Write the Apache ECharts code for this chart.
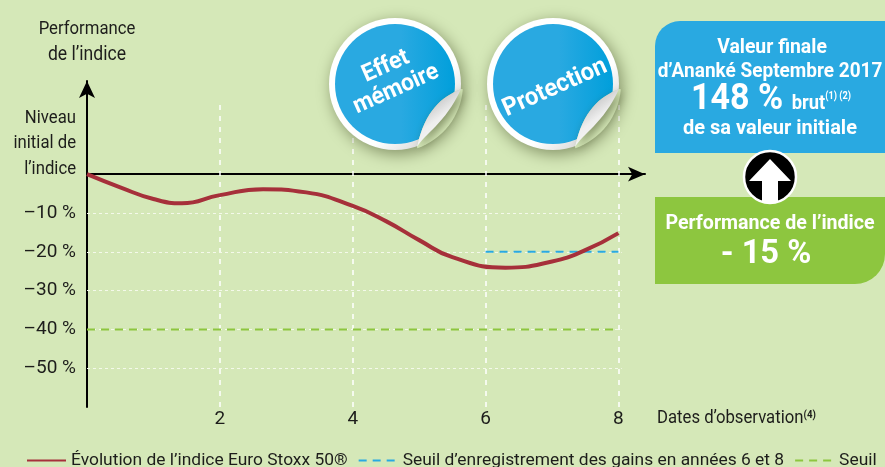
<!DOCTYPE html>
<html>
<head>
<meta charset="utf-8">
<style>
  html, body { margin: 0; padding: 0; background: #d5e8b8; }
  #chart { width: 885px; height: 467px; }
</style>
<script src="https://cdn.jsdelivr.net/npm/echarts@6/dist/echarts.min.js"></script>
</head>
<body>
<div id="chart"></div>
<script>
var FONT = 'Roboto, sans-serif'

var dates = [0, 0.5, 1, 1.43, 2, 2.65, 3.3, 4, 4.5, 5, 5.5, 6.3, 7, 7.5, 8]
var indexValues = [0, -3.4, -6.4, -7.5, -5.4, -3.9, -4.7, -8.2, -12.1, -17, -21.4, -24.1, -22.5, -19.6, -15.2]
var xTicks = [2, 4, 6, 8]
var yTicks = [-10, -20, -30, -40, -50]
var gainThreshold = -20
var gainDates = [6, 8]
var protectionThreshold = -40
var protectionDates = [0, 8]
var seriesNames = ['Évolution de l’indice Euro Stoxx 50®', 'Seuil d’enregistrement des gains en années 6 et 8', 'Seuil']

function pairs(xs, ys) {
  return xs.map(function (x, i) { return [x, Array.isArray(ys) ? ys[i] : ys] })
}

// courbe de bezier -> points, graphic n'a pas de type path
function bez(p0, p1, p2, p3) {
  var out = []
  for (var i = 0; i <= 16; i++) {
    var t = i / 16, u = 1 - t
    out.push([
      u * u * u * p0[0] + 3 * u * u * t * p1[0] + 3 * u * t * t * p2[0] + t * t * t * p3[0],
      u * u * u * p0[1] + 3 * u * u * t * p1[1] + 3 * u * t * t * p2[1] + t * t * t * p3[1]
    ])
  }
  return out
}

function sticker(cx, lines, size, dx, dy) {
  var cy = 84
  var a = [cx + 66, 89], b = [cx + 22, 147]
  var arc = []
  var a0 = Math.atan2(a[1] - cy, a[0] - cx), a1 = Math.atan2(b[1] - cy, b[0] - cx)
  for (var i = 0; i <= 16; i++) {
    var t = a0 + (a1 - a0) * i / 16
    arc.push([cx + 68 * Math.cos(t), cy + 68 * Math.sin(t)])
  }
  var inner = bez(a, [cx + 47, 97], [cx + 30, 110], b)
  var outer = bez(b, [cx + 30, 133], [cx + 50, 124], a)
  return [
    { type: 'circle', z: 20, shape: { cx: cx, cy: cy, r: 66 },
      style: { fill: new echarts.graphic.LinearGradient(0, 0, 1, 1, [
        { offset: 0, color: '#fff' }, { offset: 0.65, color: '#fff' }, { offset: 1, color: '#bdbdbd' }]),
        shadowBlur: 16, shadowColor: 'rgba(60,70,30,0.55)', shadowOffsetX: 3, shadowOffsetY: 4 } },
    { type: 'circle', z: 21, shape: { cx: cx, cy: cy, r: 60 },
      style: { fill: new echarts.graphic.LinearGradient(0, 0, 1, 0, [
        { offset: 0, color: '#29a9e1' }, { offset: 0.55, color: '#29a9e1' }, { offset: 1, color: '#009fdb' }]) } },
    // coin replie
    { type: 'polygon', z: 22, shape: { points: arc.concat(inner.slice().reverse()) }, style: { fill: '#d5e8b8' } },
    { type: 'polygon', z: 23, shape: { points: inner.concat(outer) },
      style: { fill: new echarts.graphic.LinearGradient(0, 0, 1, 1, [
        { offset: 0, color: '#9a9a9a' }, { offset: 0.5, color: '#eeeeee' }, { offset: 1, color: '#fff' }]),
        shadowBlur: 10, shadowColor: 'rgba(60,70,30,0.55)', shadowOffsetX: 3, shadowOffsetY: 3 } },
    { type: 'text', z: 24, x: cx + dx, y: cy + dy, rotation: 24 * Math.PI / 180, scaleX: 0.95,
      style: { text: lines, fill: '#fff', font: 'bold ' + size + 'px ' + FONT, align: 'center', verticalAlign: 'middle', lineHeight: size + 1 } }
  ]
}

function label(x, y, text, size, weight, align, sx) {
  return { type: 'text', z: 30, x: x, y: y, scaleX: sx || 0.88,
    style: { text: text, fill: weight ? '#fff' : '#1d1d1b', font: (weight || 'normal') + ' ' + size + 'px ' + FONT, align: align || 'center', verticalAlign: 'middle' } }
}

var chart = echarts.init(document.getElementById('chart'))
chart.setOption({
  backgroundColor: '#d5e8b8',
  animation: false,
  grid: { left: 87, top: 81, width: 558, height: 326 },
  legend: {
    left: 26, top: 452, padding: 0, width: 885, itemWidth: 39, itemHeight: 12, itemGap: 10,
    data: seriesNames,
    itemStyle: { opacity: 0 },
    textStyle: { fontFamily: FONT, fontSize: 17.4, color: '#1d1d1b' }
  },
  xAxis: [{
    type: 'value', min: 0, max: 8.4, interval: 2, position: 'bottom',
    axisLine: { show: false, onZero: false }, axisTick: { show: false }, splitLine: { show: false },
    axisLabel: {
      margin: 3, fontFamily: FONT, fontSize: 19, color: '#1d1d1b',
      formatter: function (v) { return xTicks.indexOf(v) >= 0 ? String(v) : '' }
    }
  }, {
    type: 'value', min: 0, max: 8.4, position: 'top',
    axisLine: { show: true, onZero: true, symbol: ['none', 'arrow'], symbolSize: [11, 17], lineStyle: { color: '#000', width: 2 } },
    axisTick: { show: false }, axisLabel: { show: false }, splitLine: { show: false }
  }],
  yAxis: {
    type: 'value', min: -60, max: 24, interval: 10,
    axisLine: { show: true, onZero: false, symbol: ['none', 'arrow'], symbolSize: [12, 17], lineStyle: { color: '#000', width: 2 } },
    axisTick: { show: false }, splitLine: { show: false },
    axisLabel: {
      margin: 11, fontFamily: FONT, fontSize: 19, color: '#1d1d1b',
      formatter: function (v) { return yTicks.indexOf(v) >= 0 ? '–' + Math.abs(v) + ' %' : '' }
    }
  },
  series: [{
    name: seriesNames[0], type: 'line', smooth: 0.5, symbol: 'none', z: 5,
    data: pairs(dates, indexValues),
    lineStyle: { color: '#a6303a', width: 4 }, itemStyle: { color: '#a6303a' },
    markLine: {
      silent: true, symbol: 'none', label: { show: false }, z: 1,
      lineStyle: { color: '#fff', type: [5, 6], width: 1.5 },
      data: xTicks.map(function (x) { return [{ coord: [x, -60] }, { coord: [x, 19] }] })
        .concat(yTicks.map(function (y) { return [{ coord: [0, y], lineStyle: { color: '#f4f9ea', type: [3, 3], width: 1 } }, { coord: [8.05, y] }] }))
    }
  }, {
    name: seriesNames[1], type: 'line', symbol: 'none', z: 4,
    data: pairs(gainDates, gainThreshold),
    lineStyle: { color: '#29a9e1', type: [8, 6], width: 2 }, itemStyle: { color: '#29a9e1' }
  }, {
    name: seriesNames[2], type: 'line', symbol: 'none', z: 4,
    data: pairs(protectionDates, protectionThreshold),
    lineStyle: { color: '#8dc63f', type: [8, 6], width: 2 }, itemStyle: { color: '#8dc63f' }
  }],
  graphic: [
    label(87, 29, 'Performance', 19),
    label(87, 55, 'de l’indice', 20),
    label(76, 118, 'Niveau', 19, null, 'right'),
    label(76, 143, 'initial de', 19, null, 'right'),
    label(76, 169, 'l’indice', 19, null, 'right'),
    { type: 'text', z: 30, x: 657, y: 418, scaleX: 0.88,
      style: { text: 'Dates d’observation{s|(4)}', fill: '#1d1d1b', font: '19px ' + FONT, verticalAlign: 'middle',
        rich: { s: { font: 'bold 11px ' + FONT, fill: '#1d1d1b', padding: [0, 0, 6, 0] } } } },

    // encadres
    { type: 'rect', z: 25, shape: { x: 655, y: 21, width: 230, height: 132, r: [25, 0, 0, 0] }, style: { fill: '#29a9e1' } },
    { type: 'rect', z: 25, shape: { x: 655, y: 197, width: 230, height: 87, r: [0, 0, 30, 0] }, style: { fill: '#8dc63f' } },
    label(772, 48, 'Valeur finale', 20, 'bold', null, 0.97),
    label(770, 72, 'd’Ananké Septembre 2017', 20, 'bold', null, 0.95),
    { type: 'text', z: 30, x: 771, y: 100, scaleX: 0.92,
      style: { text: '148 % {b|brut}{s|(1) (2)}', fill: '#fff', font: 'bold 37px ' + FONT, align: 'center', verticalAlign: 'middle',
        rich: { b: { font: 'bold 20px ' + FONT, fill: '#fff', padding: [8, 0, 0, 0] }, s: { font: 'bold 10px ' + FONT, fill: '#fff', padding: [0, 0, 8, 0] } } } },
    label(770, 129, 'de sa valeur initiale', 20, 'bold', null, 1),
    label(770, 224, 'Performance de l’indice', 20, 'bold', null, 0.98),
    label(766, 254, '- 15 %', 34, 'bold', null, 0.96),
    { type: 'circle', z: 28, shape: { cx: 770, cy: 177, r: 26 }, style: { fill: '#000', stroke: '#fff', lineWidth: 2.5 } },
    { type: 'polygon', z: 29, shape: { points: [[770, 159], [749, 181], [762, 181], [762, 202], [778, 202], [778, 181], [791, 181]] }, style: { fill: '#fff' } }
  ].concat(sticker(395, 'Effet\nmémoire', 24, -4, -6), sticker(553, 'Protection', 25, 2, 4))
})
</script>
</body>
</html>
